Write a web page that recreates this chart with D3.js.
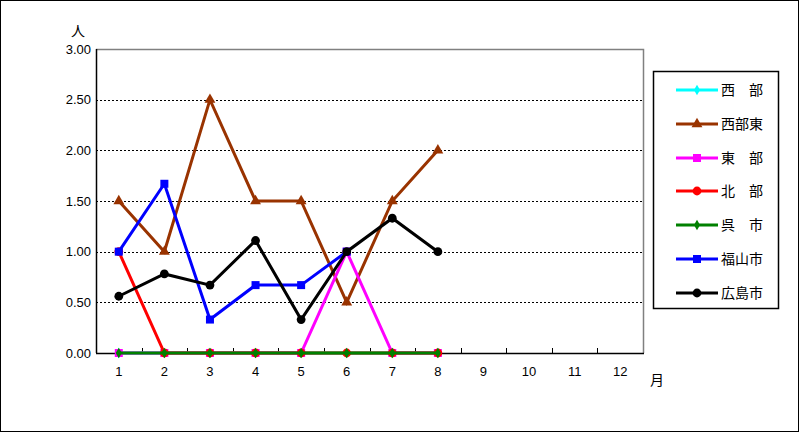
<!DOCTYPE html>
<html><head><meta charset="utf-8">
<script src="https://cdn.jsdelivr.net/npm/d3@7"></script>
<style>body{margin:0;background:#fff}svg{display:block}</style>
</head><body><svg id="c" width="799" height="432"></svg>
<script>
const months = ["1","2","3","4","5","6","7","8","9","10","11","12"];
const yTicks = [0, 0.5, 1.0, 1.5, 2.0, 2.5, 3.0];
const seriesNames = ["西　部","西部東","東　部","北　部","呉　市","福山市","広島市"];
const seriesColors = ["#00ffff","#993300","#ff00ff","#ff0000","#008000","#0000ff","#000000"];
const seriesMarkers = ["diamond","triangle","square","circle","diamond","square","circle"];
const seibu    = [0,0,0,0,0,0,0,0];
const seibuHigashi = [1.5,1.0,2.5,1.5,1.5,0.5,1.5,2.0];
const toubu    = [0,0,0,0,0,1.0,0,0];
const hokubu   = [1.0,0,0,0,0,0,0,0];
const kure     = [0,0,0,0,0,0,0,0];
const fukuyama = [1.0,1.67,0.33,0.67,0.67,1.0];
const hiroshima= [0.56,0.78,0.67,1.11,0.33,1.0,1.33,1.0];
const seriesValues = [seibu,seibuHigashi,toubu,hokubu,kure,fukuyama,hiroshima];

const svg = d3.select("#c");
const font = "'Liberation Sans', Arial, sans-serif";
const cjk = "'Noto Sans CJK JP', sans-serif";
svg.append("rect").attr("x",0.5).attr("y",0.5).attr("width",798).attr("height",431)
  .attr("fill","#fff").attr("stroke","#000");

const L=96, R=643, T=49, B=353;
const x = d3.scaleBand().domain(months).range([L,R]);
const y = d3.scaleLinear().domain([0,3]).range([B,T]);

// grid
svg.append("g").selectAll("line").data(yTicks.filter(v=>v>0&&v<3)).join("line")
  .attr("x1",L).attr("x2",R).attr("y1",d=>Math.round(y(d))+0.5).attr("y2",d=>Math.round(y(d))+0.5)
  .attr("stroke","#000").attr("stroke-dasharray","2,2").attr("stroke-width",1);
// plot border top/right
svg.append("path").attr("d",`M${L},${T+0.5}H${R+0.5}V${B}`).attr("fill","none").attr("stroke","#808080").attr("stroke-width",1.5);

// y axis
const yAxis = svg.append("g").attr("transform",`translate(${L},0)`)
  .call(d3.axisLeft(y).tickValues(yTicks).tickFormat(d3.format(".2f")).tickSize(0).tickPadding(5));
yAxis.select(".domain").remove();
yAxis.selectAll("text").attr("font-family",font).attr("font-size",13).attr("fill","#000");
svg.append("line").attr("x1",L+0.5).attr("x2",L+0.5).attr("y1",T).attr("y2",B).attr("stroke","#000").attr("stroke-width",1.5);

// x axis
const xAxis = svg.append("g").attr("transform",`translate(0,${B})`)
  .call(d3.axisBottom(x).tickSize(0).tickPadding(14));
xAxis.select(".domain").remove();
xAxis.selectAll("text").attr("font-family",font).attr("font-size",13).attr("fill","#000");
svg.append("g").selectAll("line").data(months.slice(1)).join("line")
  .attr("x1",d=>Math.round(x(d))+0.5).attr("x2",d=>Math.round(x(d))+0.5)
  .attr("y1",B).attr("y2",B-5).attr("stroke","#000");
svg.append("line").attr("x1",L).attr("x2",R+1).attr("y1",B+0.5).attr("y2",B+0.5).attr("stroke","#000").attr("stroke-width",1.5);

svg.append("text").attr("x",78).attr("y",36).attr("text-anchor","middle").attr("font-family",cjk).attr("font-size",14).text("人");
svg.append("text").attr("x",657).attr("y",385).attr("text-anchor","middle").attr("font-family",cjk).attr("font-size",14).text("月");

function marker(g, type, cx, cy, color, s) {
  if (type==="circle") g.append("circle").attr("cx",cx).attr("cy",cy).attr("r",s*0.55).attr("fill",color);
  else if (type==="square") g.append("rect").attr("x",cx-s/2).attr("y",cy-s/2).attr("width",s).attr("height",s).attr("fill",color);
  else if (type==="triangle") g.append("path").attr("d",d3.symbol(d3.symbolTriangle, s*s*0.8)()).attr("transform",`translate(${cx},${cy})`).attr("fill",color);
  else g.append("path").attr("d",d3.symbol(d3.symbolDiamond, s*s*0.5)()).attr("transform",`translate(${cx},${cy})`).attr("fill",color);
}

const line = d3.line().x((d,i)=>x(months[i])+x.bandwidth()/2).y(d=>y(d));
seriesValues.forEach((vals,k)=>{
  const g = svg.append("g");
  g.append("path").attr("d",line(vals)).attr("fill","none").attr("stroke",seriesColors[k]).attr("stroke-width",3).attr("stroke-linejoin","miter");
  vals.forEach((v,i)=>marker(g, seriesMarkers[k], x(months[i])+x.bandwidth()/2, y(v), seriesColors[k], 8));
});

// legend
svg.append("rect").attr("x",653.5).attr("y",71.5).attr("width",125).attr("height",237).attr("fill","#fff").attr("stroke","#000").attr("stroke-width",1.5);
const rowY = [90,124,158,191,225,259,293];
seriesNames.forEach((n,k)=>{
  const g = svg.append("g");
  g.append("line").attr("x1",676).attr("x2",718).attr("y1",rowY[k]).attr("y2",rowY[k]).attr("stroke",seriesColors[k]).attr("stroke-width",3);
  marker(g, seriesMarkers[k], 697, rowY[k], seriesColors[k], 8);
  g.append("text").attr("x",721).attr("y",rowY[k]+5).attr("font-family",cjk).attr("font-size",14).text(n);
});
</script></body></html>
